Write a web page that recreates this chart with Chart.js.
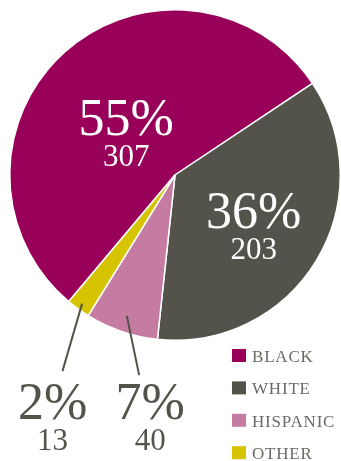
<!DOCTYPE html>
<html>
<head>
<meta charset="utf-8">
<script src="https://cdn.jsdelivr.net/npm/chart.js@4"></script>
<style>
    html, body { margin: 0; padding: 0; background: #fff; }
    #chart { display: block; }
</style>
</head>
<body>
<canvas id="chart" width="341" height="461"></canvas>
<script>
const categories = ["BLACK", "WHITE", "HISPANIC", "OTHER"];
const counts = [307, 203, 40, 13];
const colors = ["#98005a", "#54534b", "#c67ca2", "#d6c400"];

const total = counts.reduce((a, b) => a + b, 0);
const percents = counts.map(v => Math.round(v / total * 100) + "%");

// label anchors relative to the pie centre, in units of the radius
const places = [
    { dx: -0.295, dy: -0.241, color: "#fff" },
    { dx: 0.476, dy: 0.319, color: "#fff" },
    { dx: -0.150, dy: 1.476, color: "#54534b", lead: { from: 0.90, ex: -0.217, ey: 1.211 } },
    { dx: -0.741, dy: 1.476, color: "#54534b", lead: { from: 0.96, ex: -0.681, ey: 1.187 } }
];

const serif = "'Liberation Serif', 'DejaVu Serif', serif";

let sliceLabels = {
    id: "sliceLabels",
    afterDraw(chart) {
        let ctx = chart.ctx;
        let meta = chart.getDatasetMeta(0);
        ctx.save();
        ctx.textAlign = "center";
        ctx.textBaseline = "alphabetic";
        meta.data.forEach((arc, i) => {
            let { x, y, outerRadius, startAngle, endAngle } =
                arc.getProps(["x", "y", "outerRadius", "startAngle", "endAngle"], true);
            let p = places[i];
            let lx = x + p.dx * outerRadius;
            let ly = y + p.dy * outerRadius;

            if (p.lead) {
                let mid = (startAngle + endAngle) / 2;
                ctx.strokeStyle = "#54534b";
                ctx.lineWidth = 2;
                ctx.beginPath();
                ctx.moveTo(x + Math.cos(mid) * outerRadius * p.lead.from,
                           y + Math.sin(mid) * outerRadius * p.lead.from);
                ctx.lineTo(x + p.lead.ex * outerRadius, y + p.lead.ey * outerRadius);
                ctx.stroke();
            }

            ctx.fillStyle = p.color;
            ctx.font = "52px " + serif;
            ctx.fillText(percents[i], lx, ly);
            ctx.font = "31px " + serif;
            ctx.fillText(String(counts[i]), lx, ly + 31);
        });

        // legend, bottom right
        ctx.textAlign = "left";
        ctx.font = "17px " + serif;
        ctx.letterSpacing = "0.8px";
        categories.forEach((name, i) => {
            let top = 349 + i * 32.4;
            ctx.fillStyle = colors[i];
            ctx.fillRect(232, top, 14, 13);
            ctx.fillStyle = "#6b6a64";
            ctx.fillText(name, 252, top + 13);
        });
        ctx.restore();
    }
};

new Chart("chart", {
    type: "pie",
    data: {
        labels: categories,
        datasets: [{
            data: counts,
            backgroundColor: colors,
            borderColor: "#fff",
            borderWidth: 1.5
        }]
    },
    options: {
        responsive: false,
        animation: false,
        rotation: 220,
        layout: { padding: { left: 9, top: 9, right: 0, bottom: 120 } },
        plugins: {
            legend: { display: false },
            tooltip: { enabled: false }
        }
    },
    plugins: [sliceLabels]
});
</script>
</body>
</html>
